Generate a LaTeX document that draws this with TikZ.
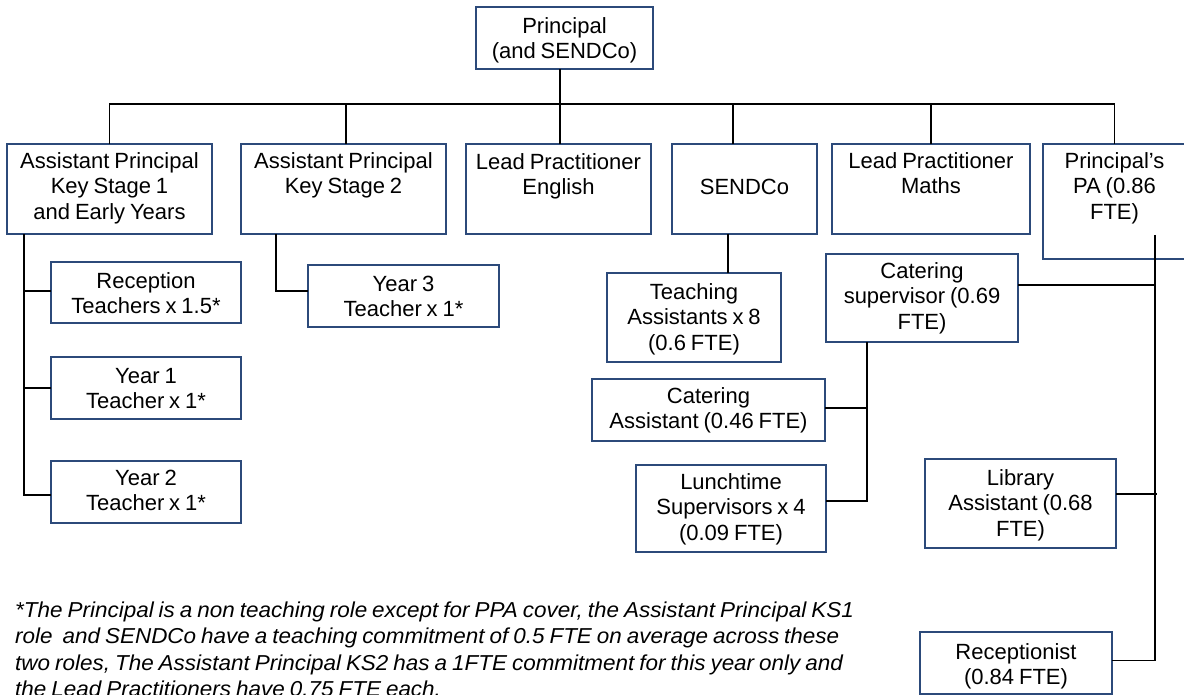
\documentclass[tikz,border=0pt]{standalone}
\usepackage{graphicx}
\usepackage{fontspec}
\setmainfont{Liberation Sans}[WordSpace=0.8]
\definecolor{boxblue}{RGB}{44,74,122}

% box with centred lines of text; #6 is the y of the first line's middle
\newcommand\OrgBox[7]{%
  \node[orgbox, minimum width={#4-#2}, minimum height={#5-#3}] (#1) at (#2,#3) {};
  \foreach \ln [count=\k] in {#7}
    \node[boxline] (#1-\k) at ({(#2+#4)/2}, {#6+(\k-1)*25.6}) {\ln};
}
% footnote text is set slightly wide
\newcommand\WideLine[1]{\scalebox{1.04}[1]{#1}}

\begin{document}
\begin{tikzpicture}[x=1pt, y=-1pt,
  orgbox/.style={draw=boxblue, line width=1.8pt, inner sep=0pt, outer sep=0pt, anchor=north west},
  boxline/.style={inner sep=0pt, font=\fontsize{22}{26}\selectfont, text height=15.8pt, text depth=1.5pt},
  link/.style={line width=1.8pt, black},
  noteline/.style={inner sep=0pt, anchor=base west, font=\fontsize{21.6}{27}\selectfont\itshape}]

\useasboundingbox[fill=white] (0,0) rectangle (1184,695);

% top
\OrgBox{pr}{476}{7}{653}{69}{26}{Principal, (and SENDCo)}

% first level
\OrgBox{apa}{7}{144}{212}{234}{161}{Assistant Principal, Key Stage 1, and Early Years}
\OrgBox{apb}{241}{144}{446}{234}{161}{Assistant Principal, Key Stage 2}
\OrgBox{lpe}{466}{144}{651}{234}{162}{Lead Practitioner, English}
\OrgBox{se}{672}{144}{817}{234}{187}{SENDCo}
\OrgBox{lpm}{832}{144}{1030}{234}{161}{Lead Practitioner, Maths}
\OrgBox{pa}{1043}{144}{1186}{259}{161}{Principal’s, PA (0.86, FTE)}

% teaching staff
\OrgBox{rec}{51}{262}{241}{323}{281}{Reception, Teachers x 1.5*}
\OrgBox{yra}{51}{357}{241}{419}{376}{Year 1, Teacher x 1*}
\OrgBox{yrb}{51}{461}{241}{523}{478}{Year 2, Teacher x 1*}
\OrgBox{yrc}{308}{265}{499}{327}{284}{Year 3, Teacher x 1*}
\OrgBox{ta}{607}{273}{781}{362}{292}{Teaching, Assistants x 8, (0.6 FTE)}

% support staff
\OrgBox{cs}{826}{254}{1018}{342}{271}{Catering, supervisor (0.69, FTE)}
\OrgBox{ca}{592}{379}{825}{441}{396}{Catering, Assistant (0.46 FTE)}
\OrgBox{ls}{636}{465}{826}{552}{482}{Lunchtime, Supervisors x 4, (0.09 FTE)}
\OrgBox{lib}{925}{459}{1116}{548}{478}{Library, Assistant (0.68, FTE)}
\OrgBox{rcp}{920}{632}{1112}{694}{652}{Receptionist, (0.84 FTE)}

% principal to first level
\coordinate (bus) at (560,104);
\draw[link] ([xshift=-4.5pt]pr.south) -- (bus);
\draw[link] (apa.north) |- (bus) -| (pa.north);
\draw[link] ([xshift=2.5pt]apb.north) |- (bus);
\draw[link] ([xshift=1.5pt]lpe.north) |- (bus);
\draw[link] ([xshift=-11.5pt]se.north) |- (bus);
\draw[link] (lpm.north) |- (bus);

% key stage 1 branch
\coordinate (kv) at ([xshift=-85.5pt]apa.south);
\draw[link] (kv) |- ([yshift=-3pt]yrb.west);
\draw[link] ([yshift=1.5pt]rec.west) -- ([yshift=1.5pt]rec.west -| kv);
\draw[link] (yra.west) -- (yra.west -| kv);

% key stage 2 branch
\draw[link] ([xshift=-67.5pt]apb.south) |- ([yshift=5pt]yrc.west);

% SENDCo branch
\draw[link] ([xshift=-16.5pt]se.south) -- ([xshift=-16.5pt]se.south |- ta.north);

% catering branch
\coordinate (cv) at ([xshift=-55pt]cs.south);
\draw[link] (cv) |- ([yshift=7.5pt]ls.east);
\draw[link] ([yshift=2pt]ca.east) -- ([yshift=2pt]ca.east -| cv);

% office branch
\coordinate (rv) at (1155,235);
\draw[link] (rv) |- ([yshift=2.5pt]rcp.east);
\draw[link] ([yshift=13pt]cs.east) -- ([yshift=13pt]cs.east -| rv);
\draw[link] ([yshift=9.5pt]lib.east) -- ++(41,0);

% footnote
\node[noteline] (n1) at (15,617) {\WideLine{*The Principal is a non teaching role except for PPA cover, the Assistant Principal KS1}};
\node[noteline] (n2) at (15,643.5) {\WideLine{role\ \ and SENDCo have a teaching commitment of 0.5 FTE on average across these}};
\node[noteline] (n3) at (15,670) {\WideLine{two roles, The Assistant Principal KS2 has a 1FTE commitment for this year only and}};
\node[noteline] (n4) at (15,696.5) {\WideLine{the Lead Practitioners have 0.75 FTE each.}};
\end{tikzpicture}
\end{document}
